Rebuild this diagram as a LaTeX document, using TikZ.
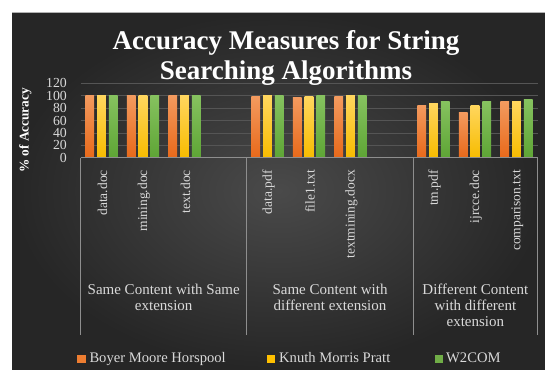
\documentclass[tikz,border=0pt]{standalone}
\usepackage{fontspec}
\setmainfont{Liberation Serif}
\definecolor{bgin}{HTML}{4A4A4A}
\definecolor{bgout}{HTML}{262626}
\definecolor{gridc}{HTML}{555555}
\definecolor{axisc}{HTML}{8E8E8E}
\definecolor{lbl}{HTML}{D9D9D9}
\definecolor{orT}{HTML}{F39A5E}
\definecolor{orB}{HTML}{E8691A}
\definecolor{yeT}{HTML}{FFD65E}
\definecolor{yeB}{HTML}{F7BC00}
\definecolor{grT}{HTML}{86C25F}
\definecolor{grB}{HTML}{5EA535}
\definecolor{orL}{HTML}{ED7D31}
\definecolor{yeL}{HTML}{FFC000}
\definecolor{grL}{HTML}{70AD47}
\begin{document}
\begin{tikzpicture}[x=1pt,y=-1pt,
  ticklbl/.style={anchor=east,inner sep=0pt,text=lbl,font=\fontsize{13.8}{14}\selectfont},
  catlbl/.style={rotate=90,anchor=east,inner sep=0pt,text=lbl,font=\fontsize{13.5}{15}\selectfont},
  grplbl/.style={anchor=north,inner sep=0pt,align=center,text=lbl,font=\fontsize{15}{16}\selectfont},
  legtxt/.style={anchor=base west,inner sep=0pt,text=lbl,font=\fontsize{14.6}{16}\selectfont},
  legsq/.style={minimum size=8.5pt,inner sep=0pt,fill=#1},
  gridline/.style={draw=gridc,line width=0.8pt},
  sepline/.style={draw=axisc,line width=0.9pt},
]
\useasboundingbox (0,0) rectangle (545,369);
\fill[white] (0,0) rectangle (545,369);
\shade[inner color=bgin,outer color=bgout] (12,12.5) rectangle (545,369);
\draw[gray!60,line width=0.6pt] (12,12.5) -- (545,12.5);
% gridlines
\foreach \v in {20,40,...,120}
  \draw[gridline] (80.7,{157.7-0.62*\v}) -- (537.5,{157.7-0.62*\v});
% bars
\foreach \s/\a/\b/\c in {0/100/100/100,1/100/100/100,2/100/100/100,
                         4/98/100/100,5/97/98/100,6/98/100/100,
                         8/84/88/91,9/73/85/90,10/90/91/94}{
  \pgfmathsetmacro\cx{80.7+(\s+0.5)*41.5}
  \shade[top color=orT,bottom color=orB] ({\cx-11.8-4.4},157.7) rectangle ({\cx-11.8+4.4},{157.7-0.62*\a});
  \shade[top color=yeT,bottom color=yeB] ({\cx-4.4},157.7) rectangle ({\cx+4.4},{157.7-0.62*\b});
  \shade[top color=grT,bottom color=grB] ({\cx+11.8-4.4},157.7) rectangle ({\cx+11.8+4.4},{157.7-0.62*\c});
}
% axis and separators
\draw[sepline] (80.7,157.7) -- (537.5,157.7);
\foreach \x in {80.7,246.7,413.3,537.5}
  \draw[sepline] (\x,157.7) -- (\x,335);
% tick labels
\foreach \v in {0,20,...,120}
  \node[ticklbl] (t\v) at (67,{157.7-0.62*\v}) {\v};
% axis title
\node[rotate=90,inner sep=0pt,text=white,font=\fontsize{13.3}{15}\selectfont\bfseries] (ytitle) at (25.5,130.5) {\% of Accuracy};
% category labels
\foreach \s/\t [count=\i] in {0/data.doc,1/mining.doc,2/text.doc,4/data.pdf,5/file1.txt,6/textmining.docx,8/tm.pdf,9/ijrcce.doc,10/comparison.txt}
  \node[catlbl] (c\i) at ({80.7+(\s+0.5)*41.5+1},170) {\t};
% group labels
\node[grplbl] (g1) at (163.7,284) {Same Content with Same\\extension};
\node[grplbl] (g2) at (330,284) {Same Content with\\different extension};
\node[grplbl] (g3) at (475.4,284) {Different Content\\with different\\extension};
% title
\node[anchor=north,align=center,inner sep=0pt,text=white,font=\fontsize{27}{30}\selectfont\bfseries] (title) at (286,30) {Accuracy Measures for String\\Searching Algorithms};
% legend
\node[legsq=orL] (s1) at (81.7,359.2) {};
\node[legtxt] (l1) at (89.3,362.7) {Boyer Moore Horspool};
\node[legsq=yeL] (s2) at (271.2,359.2) {};
\node[legtxt] (l2) at (279,362.7) {Knuth Morris Pratt};
\node[legsq=grL] (s3) at (439.2,359.2) {};
\node[legtxt] (l3) at (446,362.7) {W2COM};
\end{tikzpicture}
\end{document}
